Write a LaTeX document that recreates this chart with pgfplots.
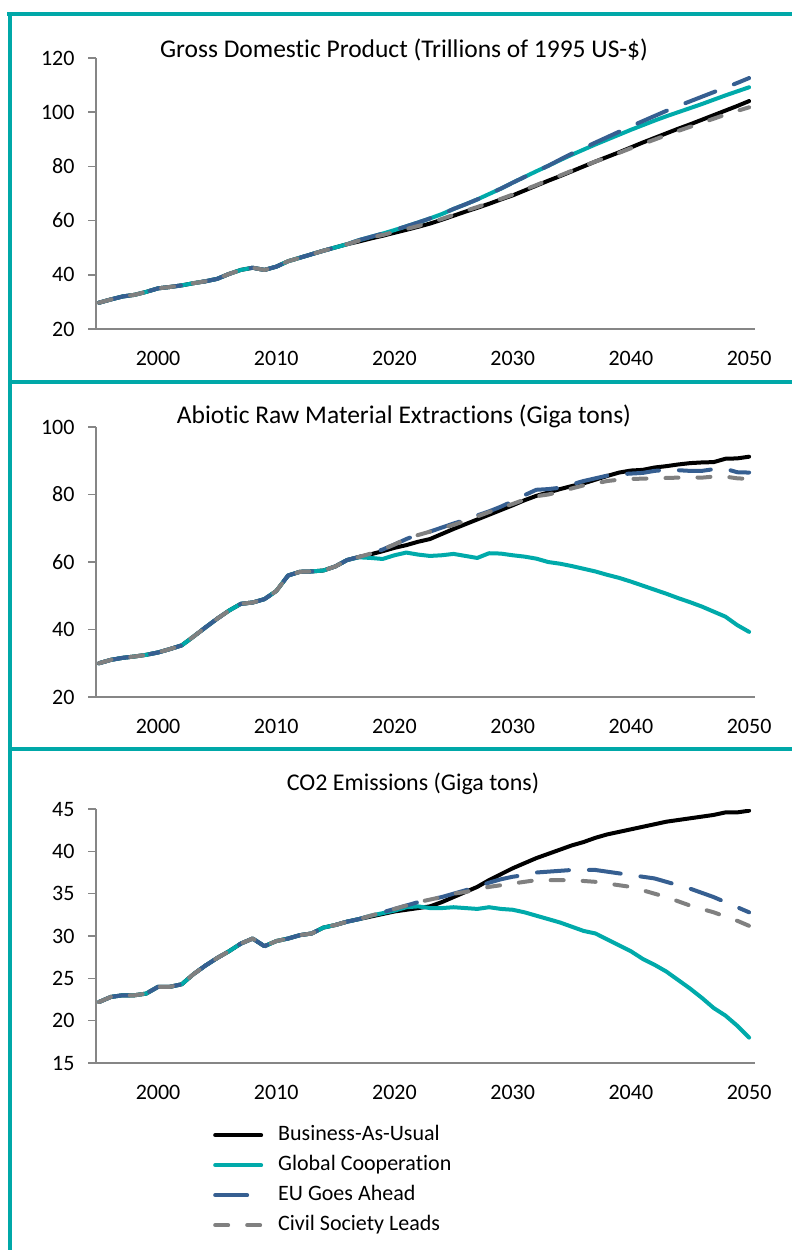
\documentclass[border=0pt]{standalone}
\usepackage{pgfplots}
\pgfplotsset{compat=1.18}
\usepackage{pgfplotstable}
\usepackage{fontspec}
\setmainfont{Carlito}[Ligatures=NoCommon]
\definecolor{frameteal}{RGB}{0,168,168}
\definecolor{gcteal}{RGB}{0,170,170}
\definecolor{eublue}{RGB}{54,95,145}
\definecolor{csgray}{RGB}{128,128,128}
\definecolor{axgray}{RGB}{134,134,134}

\pgfplotstableread{
year bau gc eu csl
1995 29.7 29.7 29.7 29.7
1996 30.9 30.9 30.9 30.9
1997 32.0 32.0 32.0 32.0
1998 32.6 32.6 32.6 32.6
1999 33.7 33.7 33.7 33.7
2000 35.0 35.0 35.0 35.0
2001 35.5 35.5 35.5 35.5
2002 36.1 36.1 36.1 36.1
2003 36.9 36.9 36.9 36.9
2004 37.6 37.6 37.6 37.6
2005 38.5 38.5 38.5 38.5
2006 40.3 40.3 40.3 40.3
2007 41.8 41.8 41.8 41.8
2008 42.6 42.6 42.6 42.6
2009 41.8 41.8 41.8 41.8
2010 43.0 43.0 43.0 43.0
2011 45.0 45.0 45.0 45.0
2012 46.3 46.3 46.3 46.3
2013 47.6 47.6 47.6 47.6
2014 48.9 48.9 48.9 48.9
2015 50.1 50.1 50.1 50.1
2016 51.3 51.3 51.3 51.3
2017 52.3 52.8 52.8 52.6
2018 53.4 54.0 54.0 53.7
2019 54.4 55.2 55.2 54.7
2020 55.5 56.5 56.5 55.8
2021 56.6 57.9 57.9 56.9
2022 57.7 59.3 59.3 58.0
2023 58.9 60.8 60.8 59.2
2024 60.3 62.4 62.4 60.6
2025 61.8 64.3 64.3 62.1
2026 63.3 66.0 66.0 63.6
2027 64.7 67.8 67.8 65.0
2028 66.2 69.8 69.8 66.5
2029 67.8 71.8 71.8 68.0
2030 69.3 74.0 74.0 69.6
2031 71.1 76.1 76.1 71.4
2032 72.9 78.2 78.2 73.1
2033 74.7 80.2 80.2 74.9
2034 76.4 82.3 82.5 76.6
2035 78.2 84.3 84.7 78.4
2036 80.0 86.2 86.8 80.1
2037 81.8 88.1 88.8 81.8
2038 83.5 89.9 90.8 83.4
2039 85.2 91.7 92.8 85.0
2040 87.0 93.5 94.8 86.7
2041 88.8 95.2 96.7 88.3
2042 90.5 96.9 98.6 89.9
2043 92.2 98.5 100.5 91.5
2044 93.9 100.0 102.3 93.1
2045 95.5 101.5 104.0 94.6
2046 97.2 103.0 105.7 96.1
2047 98.9 104.6 107.4 97.6
2048 100.6 106.2 109.1 99.1
2049 102.3 107.7 110.8 100.5
2050 104.1 109.2 112.6 101.8
}\gdptable

\pgfplotstableread{
year bau gc eu csl
1995 30.0 30.0 30.0 30.0
1996 31.0 31.0 31.0 31.0
1997 31.6 31.6 31.6 31.6
1998 32.0 32.0 32.0 32.0
1999 32.5 32.5 32.5 32.5
2000 33.2 33.2 33.2 33.2
2001 34.2 34.2 34.2 34.2
2002 35.3 35.3 35.3 35.3
2003 37.9 37.9 37.9 37.9
2004 40.6 40.6 40.6 40.6
2005 43.2 43.2 43.2 43.2
2006 45.6 45.6 45.6 45.6
2007 47.6 47.6 47.6 47.6
2008 48.0 48.0 48.0 48.0
2009 49.0 49.0 49.0 49.0
2010 51.4 51.4 51.4 51.4
2011 56.0 56.0 56.0 56.0
2012 57.1 57.1 57.1 57.1
2013 57.2 57.2 57.2 57.2
2014 57.5 57.5 57.5 57.5
2015 58.7 58.7 58.7 58.7
2016 60.6 60.6 60.6 60.6
2017 61.5 61.4 61.5 61.5
2018 62.3 61.2 62.5 62.5
2019 63.2 60.9 63.7 63.7
2020 64.2 62.0 65.2 65.2
2021 65.0 62.8 66.8 66.8
2022 66.0 62.2 68.2 68.0
2023 66.8 61.8 69.0 69.0
2024 68.3 62.0 70.2 70.0
2025 69.8 62.4 71.4 71.0
2026 71.2 61.8 72.5 72.2
2027 72.6 61.2 73.8 73.5
2028 74.0 62.6 75.0 74.8
2029 75.4 62.5 76.4 76.0
2030 76.8 62.0 78.0 77.2
2031 78.3 61.6 79.8 78.5
2032 79.6 61.0 81.4 79.5
2033 80.6 60.0 81.6 80.0
2034 81.6 59.5 82.0 80.8
2035 82.5 58.8 83.0 81.8
2036 83.3 58.0 84.0 82.7
2037 84.4 57.2 84.8 83.3
2038 85.5 56.2 85.6 84.0
2039 86.5 55.3 86.0 84.4
2040 87.1 54.2 86.2 84.6
2041 87.3 53.0 86.4 84.7
2042 88.0 51.8 87.0 84.8
2043 88.4 50.6 87.3 84.9
2044 88.9 49.3 87.2 85.0
2045 89.3 48.1 87.0 85.1
2046 89.5 46.8 87.0 85.0
2047 89.6 45.3 87.5 85.3
2048 90.6 43.8 87.6 85.3
2049 90.7 41.3 86.6 84.8
2050 91.2 39.3 86.5 84.6
}\mattable

\pgfplotstableread{
year bau gc eu csl
1995 22.2 22.2 22.2 22.2
1996 22.8 22.8 22.8 22.8
1997 23.0 23.0 23.0 23.0
1998 23.0 23.0 23.0 23.0
1999 23.2 23.2 23.2 23.2
2000 24.0 24.0 24.0 24.0
2001 24.0 24.0 24.0 24.0
2002 24.3 24.3 24.3 24.3
2003 25.5 25.5 25.5 25.5
2004 26.5 26.5 26.5 26.5
2005 27.4 27.4 27.4 27.4
2006 28.2 28.2 28.2 28.2
2007 29.1 29.1 29.1 29.1
2008 29.7 29.7 29.7 29.7
2009 28.8 28.8 28.8 28.8
2010 29.4 29.4 29.4 29.4
2011 29.7 29.7 29.7 29.7
2012 30.1 30.1 30.1 30.1
2013 30.3 30.3 30.3 30.3
2014 31.0 31.0 31.0 31.0
2015 31.3 31.3 31.3 31.3
2016 31.7 31.7 31.7 31.7
2017 32.0 32.0 32.0 32.0
2018 32.3 32.4 32.4 32.4
2019 32.6 32.7 32.8 32.8
2020 32.9 33.0 33.2 33.2
2021 33.1 33.4 33.6 33.6
2022 33.3 33.5 34.0 34.0
2023 33.5 33.3 34.3 34.3
2024 34.0 33.3 34.6 34.6
2025 34.6 33.4 35.0 35.0
2026 35.2 33.3 35.4 35.2
2027 35.8 33.2 35.8 35.5
2028 36.6 33.4 36.3 35.8
2029 37.3 33.2 36.7 36.0
2030 38.0 33.1 37.0 36.2
2031 38.6 32.8 37.2 36.4
2032 39.2 32.4 37.5 36.6
2033 39.7 32.0 37.6 36.6
2034 40.2 31.6 37.7 36.6
2035 40.7 31.1 37.8 36.6
2036 41.1 30.6 37.8 36.5
2037 41.6 30.3 37.8 36.4
2038 42.0 29.6 37.6 36.2
2039 42.3 28.9 37.4 36.0
2040 42.6 28.2 37.2 35.8
2041 42.9 27.3 37.0 35.4
2042 43.2 26.6 36.8 35.0
2043 43.5 25.8 36.4 34.6
2044 43.7 24.8 36.0 34.1
2045 43.9 23.8 35.6 33.6
2046 44.1 22.7 35.1 33.2
2047 44.3 21.5 34.6 32.8
2048 44.6 20.6 34.0 32.3
2049 44.6 19.4 33.4 31.8
2050 44.8 18.0 32.8 31.2
}\cotable

\pgfplotsset{
  panel/.style={
    scale only axis, width=659pt,
    xmin=1994.75, xmax=2050.5,
    axis x line*=bottom, axis y line*=left,
    axis line style={draw=axgray, line width=1.5pt, -},
    xtick={2000,2010,...,2050},
    xtick style={draw=none},
    ytick style={draw=axgray, line width=1.5pt},
    tick align=outside, major tick length=8pt,
    tick label style={font=\fontsize{22}{26}\selectfont, text=black},
    /pgf/number format/1000 sep={},
    /pgf/number format/assume math mode=true,
    xticklabel style={anchor=north, yshift=-11pt},
    yticklabel style={anchor=east, xshift=-10pt},
    every axis plot/.append style={line width=4pt, line cap=round, line join=round},
  },
  bau/.style={black, solid},
  gc/.style={gcteal, solid},
  eu/.style={eublue, dash pattern=on 32pt off 20pt},
  csl/.style={csgray, dash pattern=on 13pt off 19pt},
}

\begin{document}
\begin{tikzpicture}
\useasboundingbox (0pt,0pt) rectangle (792pt,-1250pt);
% frame
\draw[frameteal, line width=4pt] (7pt,-14pt) -- (792pt,-14pt);
\draw[frameteal, line width=4pt] (10pt,-12pt) -- (10pt,-1250pt);
\draw[frameteal, line width=4pt] (10pt,-382pt) -- (792pt,-382pt);
\draw[frameteal, line width=4pt] (10pt,-749pt) -- (792pt,-749pt);

\begin{axis}[panel, at={(96pt,-329pt)}, anchor=south west, height=271pt,
  ymin=20, ymax=120, ytick={20,40,...,120}]
\addplot[bau] table[x=year,y=bau]{\gdptable};
\addplot[gc] table[x=year,y=gc]{\gdptable};
\addplot[eu] table[x=year,y=eu]{\gdptable};
\addplot[csl] table[x=year,y=csl]{\gdptable};
\end{axis}
\node[anchor=base, font=\fontsize{25.5}{30}\selectfont] at (404pt,-57pt) {Gross Domestic Product (Trillions of 1995 US-\$)};

\begin{axis}[panel, at={(96pt,-697pt)}, anchor=south west, height=270pt,
  ymin=20, ymax=100, ytick={20,40,...,100}]
\addplot[bau] table[x=year,y=bau]{\mattable};
\addplot[gc] table[x=year,y=gc]{\mattable};
\addplot[eu] table[x=year,y=eu]{\mattable};
\addplot[csl] table[x=year,y=csl]{\mattable};
\end{axis}
\node[anchor=base, font=\fontsize{25.5}{30}\selectfont] at (404pt,-423pt) {Abiotic Raw Material Extractions (Giga tons)};

\begin{axis}[panel, at={(96pt,-1063pt)}, anchor=south west, height=254pt,
  ymin=15, ymax=45, ytick={15,20,...,45},
  legend style={at={(0.1775,-0.244)}, anchor=north west, draw=none, fill=none,
    inner sep=0pt, row sep=10pt, column sep=15pt,
    font=\fontsize{22}{26}\selectfont,
    nodes={inner sep=0pt, text height=15pt, text depth=5pt}},
  legend cell align=left,
  legend image code/.code={\draw[#1] (2pt,0pt) -- (48pt,0pt);}]
\addplot[bau] table[x=year,y=bau]{\cotable};
\addlegendentry{Business-As-Usual}
\addplot[gc] table[x=year,y=gc]{\cotable};
\addlegendentry{Global Cooperation}
\addplot[eu] table[x=year,y=eu]{\cotable};
\addlegendentry{EU Goes Ahead}
\addplot[csl] table[x=year,y=csl]{\cotable};
\addlegendentry{Civil Society Leads}
\end{axis}
\node[anchor=base, font=\fontsize{24}{28}\selectfont] at (413pt,-790pt) {CO2 Emissions (Giga tons)};
\end{tikzpicture}
\end{document}
